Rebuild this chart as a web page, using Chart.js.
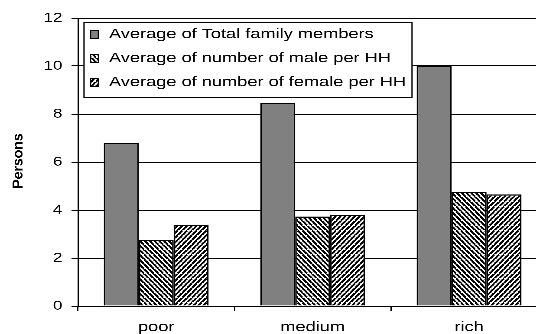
<!DOCTYPE html>
<html>
<head>
<meta charset="utf-8">
<script src="https://cdn.jsdelivr.net/npm/chart.js@4/dist/chart.umd.min.js"></script>
<style>
  html, body { margin: 0; padding: 0; background: #fff; overflow: hidden; }
  /* the chart is laid out narrow and widened horizontally, giving the wide lettering */
  #wrap { position: absolute; left: 0; top: 0; width: 421px; height: 334px;
          transform: scaleX(1.3); transform-origin: 0 0; }
</style>
</head>
<body>
<div id="wrap"><canvas id="c"></canvas></div>
<script>
const STRETCH = 1.3;
const FONT = "'Liberation Sans', Arial, sans-serif";

const categories = ['poor', 'medium', 'rich'];
const seriesNames = [
  'Average of Total family members',
  'Average of number of male per HH',
  'Average of number of female per HH'
];
const totalMembers = [6.8, 8.47, 10.02];
const malePerHH = [2.75, 3.73, 4.76];
const femalePerHH = [3.38, 3.79, 4.65];
const yTicks = [0, 2, 4, 6, 8, 10, 12];
const yTitle = 'Persons';

// Diagonal black/white hatch; dir = 1 for "\" stripes, -1 for "/" stripes.
function hatch(dir) {
  const N = 60;
  const tile = document.createElement('canvas');
  tile.width = N; tile.height = N;
  const t = tile.getContext('2d');
  t.fillStyle = '#fff';
  t.fillRect(0, 0, N, N);
  t.strokeStyle = '#000';
  t.lineWidth = N * 0.56 / Math.SQRT2;
  for (let k = -1; k <= 1; k++) {
    t.beginPath();
    if (dir > 0) { t.moveTo(k * N, 0); t.lineTo(k * N + N, N); }
    else { t.moveTo(k * N + N, 0); t.lineTo(k * N, N); }
    t.stroke();
  }
  const p = document.createElement('canvas').getContext('2d').createPattern(tile, 'repeat');
  const period = 4.8; // on-screen stripe period, px
  p.setTransform(new DOMMatrix().scale((period / STRETCH) / N, period / N));
  return p;
}

const fills = ['#808080', hatch(1), hatch(-1)];
const values = [totalMembers, malePerHH, femalePerHH];

const whiteBg = {
  id: 'whiteBg',
  beforeDraw(chart) {
    const ctx = chart.ctx;
    ctx.save();
    ctx.fillStyle = '#fff';
    ctx.fillRect(0, 0, chart.width, chart.height);
    ctx.restore();
  }
};

// boxed legend inside the plot, plus the vertical axis caption
const boxLegend = {
  id: 'boxLegend',
  afterDatasetsDraw(chart) {
    const ctx = chart.ctx;
    const left = 84 / STRETCH, right = 412 / STRETCH, top = 22, bottom = 97;
    ctx.save();
    ctx.fillStyle = '#fff';
    ctx.fillRect(left, top, right - left, bottom - top);
    ctx.strokeStyle = '#000';
    ctx.lineWidth = 1;
    ctx.strokeRect(left, top + 0.5, right - left, bottom - top);
    const rows = [34.5, 58.5, 82.5];
    chart.data.datasets.forEach((ds, i) => {
      const y = rows[i];
      const mx = 90.5 / STRETCH, mw = 8 / STRETCH, mh = 8;
      ctx.fillStyle = ds.backgroundColor;
      ctx.fillRect(mx, y - mh / 2, mw, mh);
      ctx.lineWidth = 1;
      ctx.strokeStyle = '#000';
      ctx.strokeRect(mx, y - mh / 2, mw, mh);
      ctx.fillStyle = '#000';
      ctx.font = '14px ' + FONT;
      ctx.textBaseline = 'middle';
      ctx.textAlign = 'left';
      ctx.fillText(ds.label, 109 / STRETCH, y);
    });
    ctx.translate(18.5 / STRETCH, 161);
    ctx.scale(1 / STRETCH, 1);
    ctx.rotate(-Math.PI / 2);
    ctx.font = 'bold 14px ' + FONT;
    ctx.textAlign = 'center';
    ctx.textBaseline = 'middle';
    ctx.fillStyle = '#000';
    ctx.fillText(yTitle, 0, 0);
    ctx.restore();
  }
};

new Chart(document.getElementById('c'), {
  type: 'bar',
  data: {
    labels: categories,
    datasets: seriesNames.map((name, i) => ({
      label: name,
      data: values[i],
      backgroundColor: fills[i],
      borderColor: '#000',
      borderWidth: 1.2,
      categoryPercentage: 0.67,
      barPercentage: 1
    }))
  },
  options: {
    responsive: true,
    maintainAspectRatio: false,
    animation: false,
    devicePixelRatio: 3,
    layout: { padding: { top: 18, left: 0, right: 0, bottom: 0 } },
    plugins: { legend: { display: false }, tooltip: { enabled: false } },
    scales: {
      x: {
        grid: { display: true, drawOnChartArea: false, offset: true, color: '#000', tickLength: 5 },
        border: { display: true, color: '#000' },
        ticks: { color: '#000', font: { family: FONT, size: 14 }, padding: 8 },
        afterFit(s) { s.height = 28; }
      },
      y: {
        min: 0, max: 12,
        afterBuildTicks(s) { s.ticks = yTicks.map(v => ({ value: v })); },
        grid: { color: '#000', tickLength: 5 },
        border: { display: true, color: '#000' },
        ticks: { color: '#000', font: { family: FONT, size: 13 }, padding: 7 },
        afterFit(s) { s.width = 60; }
      }
    }
  },
  plugins: [whiteBg, boxLegend]
});
</script>
</body>
</html>
